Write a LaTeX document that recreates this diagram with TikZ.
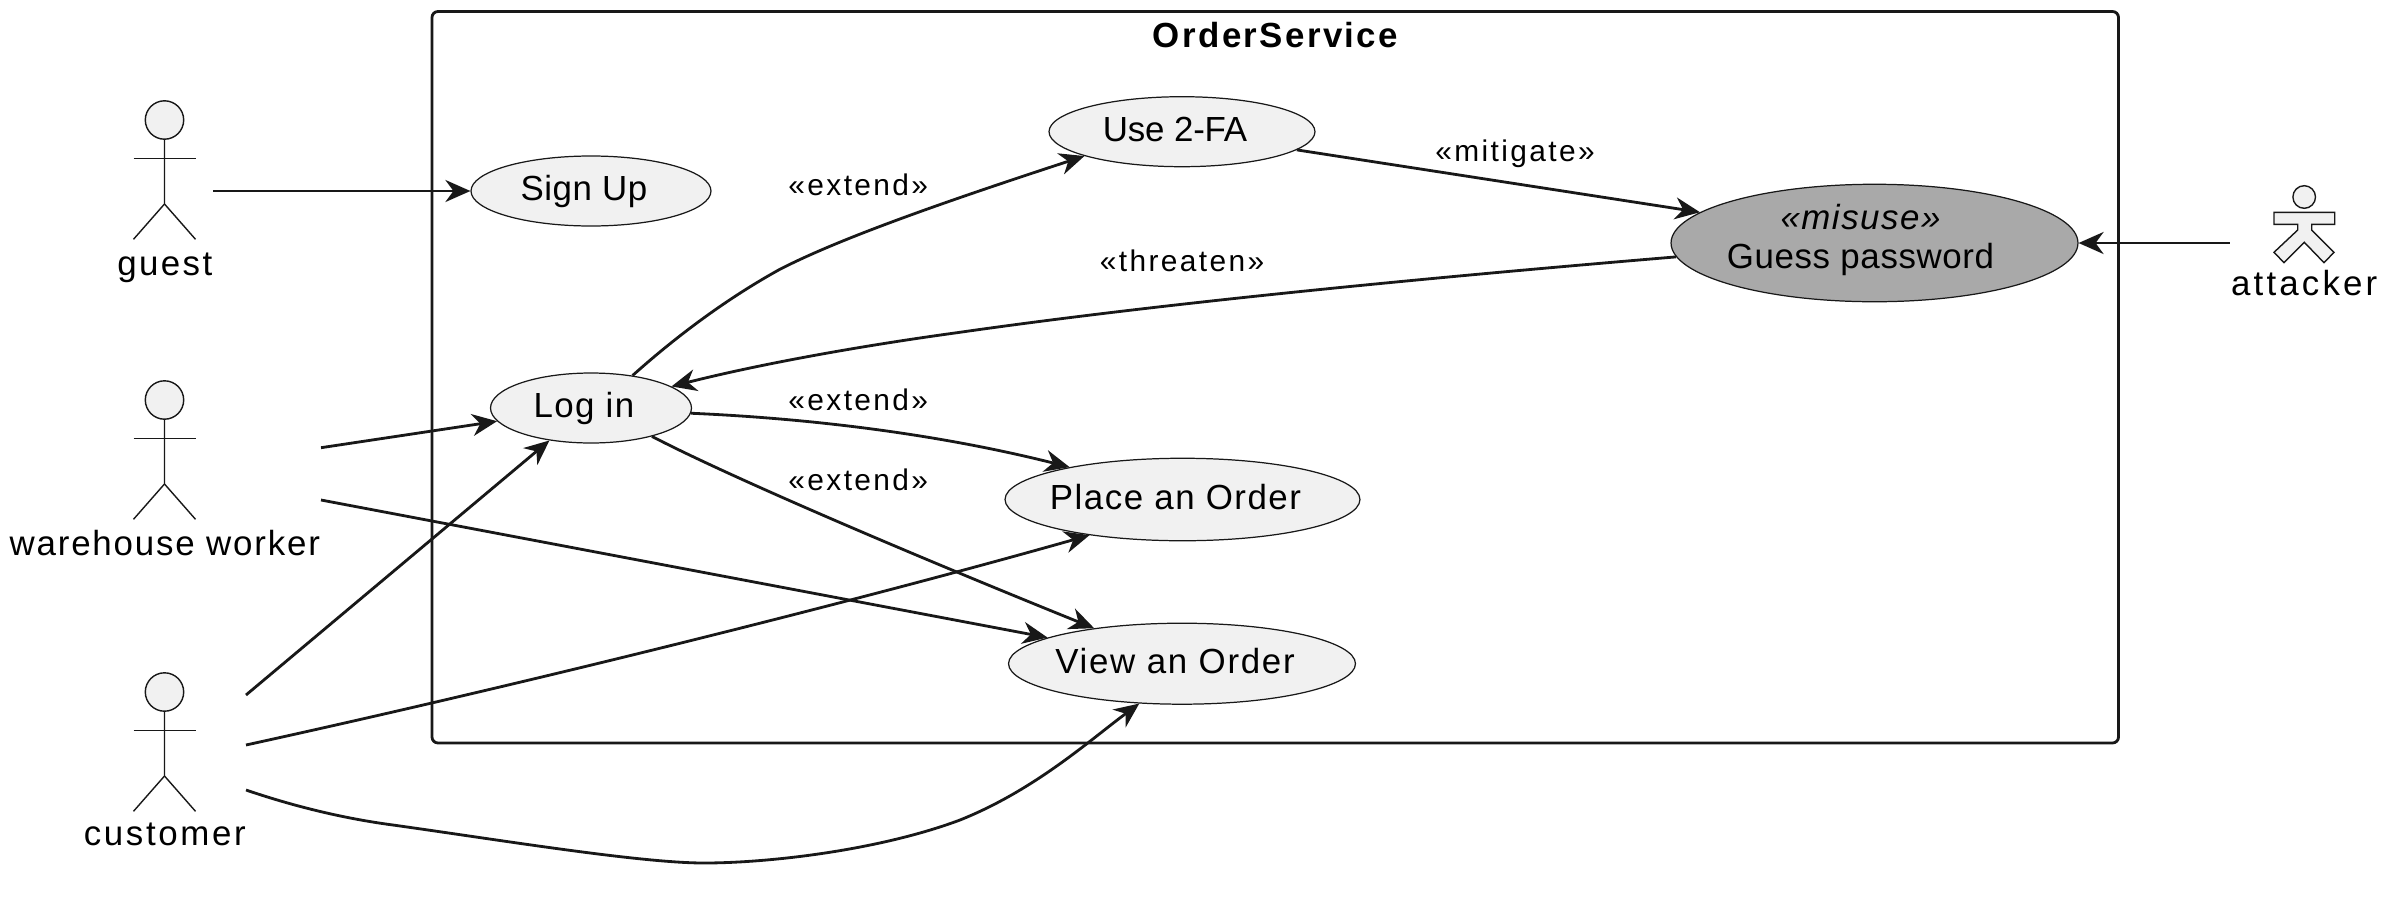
\documentclass[tikz,border=0pt]{standalone}
\usepackage{fontspec}
\setmainfont{Liberation Sans}
\usetikzlibrary{arrows.meta}
\usetikzlibrary{shapes.geometric}
\definecolor{inkc}{HTML}{181818}
\definecolor{fillc}{HTML}{F1F1F1}
\definecolor{misusec}{HTML}{A9A9A9}
\newcommand{\spaced}[2]{{\addfontfeature{LetterSpace=#1}#2}}
\newcommand{\uctext}[3][.28cm]{{\addfontfeature{LetterSpace=#2}#3\kern#1}}
\tikzset{
 usecase/.style={ellipse, draw=inkc, fill=fillc, line width=.7pt, inner ysep=0, inner xsep=-1.2cm, text=black,
   text height=14.7pt, text depth=3.6pt, font=\fontsize{19.85}{22.3}\selectfont},
 rel/.style={draw=inkc, line width=1.6pt, -{Stealth[length=5mm,width=4.4mm,inset=1.6mm]}},
 actorline/.style={draw=inkc, line width=.8pt},
 actorname/.style={anchor=base, inner sep=0, font=\fontsize{19.85}{22.3}\selectfont},
 edgelabel/.style={anchor=base, inner sep=0, font=\fontsize{17}{20}\selectfont},
}
\begin{document}
\begin{tikzpicture}[x=.02cm,y=-.02cm]
\useasboundingbox (0,0) rectangle (2388,900);
\draw[draw=inkc, line width=1.6pt, rounded corners=.12cm] (432,11.5) rectangle (2118.5,743);
\node[anchor=base, inner sep=0, font=\fontsize{19.85}{22.3}\selectfont\bfseries] (title) at (1275.5,47.7) {\spaced{6.8}{OrderService}};

\node[usecase, minimum width=4.8cm, minimum height=1.4cm] (signup) at (591,191) {\uctext{1.5}{Sign Up}};
\node[usecase, minimum width=4.02cm, minimum height=1.4cm] (login) at (591,408) {\uctext{4}{Log in}};
\node[usecase, minimum width=5.32cm, minimum height=1.4cm] (twofa) at (1182,131.7) {\uctext{-.5}{Use 2-FA}};
\node[usecase, minimum width=7.1cm, minimum height=1.65cm] (place) at (1182.5,499.5) {\uctext{4.3}{Place an Order}};
\node[usecase, minimum width=6.94cm, minimum height=1.62cm] (view) at (1182,663.7) {\uctext{4.9}{View an Order}};
\node[usecase, fill=misusec, align=center, text height=, text depth=7.6pt, minimum width=8.14cm, minimum height=2.35cm] (guess) at (1874.5,243)
  {\uctext[.56cm]{4.4}{\itshape «misuse»}\\\uctext[.56cm]{1.8}{Guess password}};

% stick figures
\foreach \id/\name/\sp/\y/\base in {guest/guest/7/120/275, worker/warehouse worker/5.2/400/555, customer/customer/7.5/692/845} {
 \draw[actorline, fill=fillc] (164.5,\y) circle (19.2);
 \draw[actorline] (164.5,\y+19) --++(0,65) --++(-31,35.3);
 \draw[actorline] (164.5,\y+84) --++(31,35.3);
 \draw[actorline] (133.5,\y+38.3) --++(62,0);
 \node[actorname] (\id) at (164.8,\base) {\spaced{\sp}{\name}};
}
% the attacker
\draw[actorline, fill=fillc] (2304.2,197) circle (11.3);
\draw[actorline, fill=fillc] (2274,212.3) -- (2334.7,212.3) -- (2334.7,224.3) -- (2311.7,224.3) -- (2311.7,230)
 -- (2334,252.3) -- (2324,262.7) -- (2304.3,242.3) -- (2284,262.7) -- (2274,252.3) -- (2297.7,230) -- (2297.7,224.3) -- (2274,224.3) -- cycle;
\node[actorname] (attacker) at (2304.2,295.5) {\spaced{9}{attacker}};

\coordinate (guestout) at (213,191);
\coordinate (workerup) at (321,447.7);
\coordinate (workerdown) at (321,500);
\coordinate (custa) at (246,695);
\coordinate (custb) at (246,745);
\coordinate (custc) at (246,790);
\coordinate (attackerout) at (2229.6,243);

\draw[rel] (guestout) -- (signup.west);
\draw[rel] (workerup) -- (login.188.4);
\draw[rel] (workerdown) -- (view.169.1);
\draw[rel] (custa) -- (login.218.7);
\draw[rel] (custb) .. controls (520,685) and (850,603) .. (place.201);
\draw[rel] (custc) .. controls (290,805) and (340,818) .. (393,825) .. controls (500,840) and (640,863) .. (704,863)
 .. controls (770,863) and (880,850) .. (960,820) .. controls (1035,790) and (1090,740) .. (view.223.1);
\draw[rel] (attackerout) -- (guess.east);
\draw[rel] (login.38.6) .. controls (680,333) and (730,297) .. (778.6,270) .. controls (840,238) and (950,200) .. (twofa.194.1);
\draw[rel] (guess.184.5) .. controls (1400,280) and (1150,305) .. (957,332.7) .. controls (860,346) and (760,364) .. (login.15.6);
\draw[rel] (login.357) .. controls (800,418) and (930,432) .. (place.164.8);
\draw[rel] (login.-25.7) .. controls (740,482) and (940,566) .. (view.158.6);
\draw[rel] (twofa.-9.5) -- (guess.170.6);

\node[edgelabel] (extendtop) at (858.3,195.7) {\spaced{8}{«extend»}};
\node[edgelabel] (extendplace) at (858.3,410.7) {\spaced{8}{«extend»}};
\node[edgelabel] (extendview) at (858.3,490) {\spaced{8}{«extend»}};
\node[edgelabel] (mitigate) at (1515,161.7) {\spaced{8}{«mitigate»}};
\node[edgelabel] (threaten) at (1182,271.7) {\spaced{8}{«threaten»}};
\end{tikzpicture}
\end{document}
